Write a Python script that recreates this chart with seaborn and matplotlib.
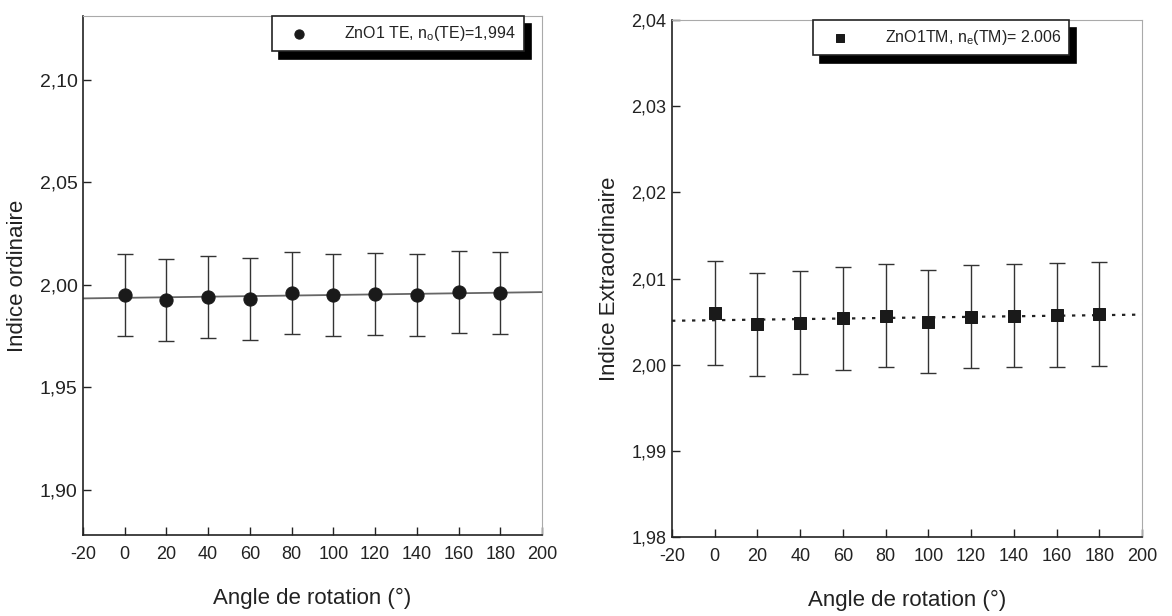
import numpy as np
import pandas as pd
import matplotlib
matplotlib.use("Agg")
import matplotlib.pyplot as plt
import seaborn as sns

# data
angles = [0, 20, 40, 60, 80, 100, 120, 140, 160, 180]
n_te = [1.9951, 1.9927, 1.9938, 1.9931, 1.9960, 1.9951, 1.9955, 1.9951, 1.9963, 1.9960]
err_te = [0.020, 0.020, 0.020, 0.020, 0.020, 0.020, 0.020, 0.020, 0.020, 0.020]
n_tm = [2.0060, 2.0047, 2.0049, 2.0054, 2.0057, 2.0050, 2.0056, 2.0057, 2.0058, 2.0059]
err_tm = [0.006, 0.006, 0.006, 0.006, 0.006, 0.006, 0.006, 0.006, 0.006, 0.006]

x_ticks = [-20, 0, 20, 40, 60, 80, 100, 120, 140, 160, 180, 200]
te_yticks = [1.90, 1.95, 2.00, 2.05, 2.10]
te_ylabels = ["1,90", "1,95", "2,00", "2,05", "2,10"]
tm_yticks = [1.98, 1.99, 2.00, 2.01, 2.02, 2.03, 2.04]
tm_ylabels = ["1,98", "1,99", "2,00", "2,01", "2,02", "2,03", "2,04"]

te_label = r"ZnO1 TE, n$_\mathrm{o}$(TE)=1,994"
tm_label = r"ZnO1TM, n$_\mathrm{e}$(TM)= 2.006"

df_te = pd.DataFrame({"angle": angles, "n": n_te, "err": err_te})
df_tm = pd.DataFrame({"angle": angles, "n": n_tm, "err": err_tm})

sns.set_theme(style="ticks")
plt.rcParams["font.family"] = ["Liberation Sans", "DejaVu Sans"]
plt.rcParams["mathtext.fontset"] = "custom"
plt.rcParams["mathtext.rm"] = "Liberation Sans"
plt.rcParams["text.color"] = "#222222"

fig = plt.figure(figsize=(11.72, 6.16), dpi=100)
ax1 = fig.add_axes([0.0708, 0.1315, 0.3917, 0.8425])
ax2 = fig.add_axes([0.5734, 0.128, 0.401, 0.8393])


def style_axes(ax, yticks, ylabels, ylim, ysize):
    ax.set_xlim(-20, 200)
    ax.set_ylim(*ylim)
    ax.set_xticks(x_ticks)
    ax.set_xticklabels([str(t) for t in x_ticks], fontsize=13, color="#222222")
    ax.set_yticks(yticks)
    ax.set_yticklabels(ylabels, fontsize=ysize, color="#222222")
    ax.tick_params(direction="in", length=6, width=1, color="#222222")
    ax.tick_params(axis="x", pad=8)
    ax.tick_params(axis="y", pad=4)
    for s in ["left", "bottom"]:
        ax.spines[s].set_color("#222222")
        ax.spines[s].set_linewidth(1.2)
    for s in ["top", "right"]:
        ax.spines[s].set_color("#aaaaaa")
        ax.spines[s].set_linewidth(0.8)


# left panel: ordinary index
style_axes(ax1, te_yticks, te_ylabels, (1.878, 2.131), 14)
sns.regplot(data=df_te, x="angle", y="n", ax=ax1, scatter=False, ci=None,
            truncate=False, line_kws={"color": "#666666", "lw": 1.3})
ax1.errorbar(df_te["angle"], df_te["n"], yerr=df_te["err"], fmt="none",
             ecolor="#333333", elinewidth=1, capsize=6, capthick=1)
sns.scatterplot(data=df_te, x="angle", y="n", ax=ax1, marker="o", s=90,
                color="#1a1a1a", edgecolor="#1a1a1a", label=te_label, zorder=5)
ax1.set_xlim(-20, 200)
ax1.set_xlabel("Angle de rotation (°)", fontsize=16, color="#222222", labelpad=18)
ax1.set_ylabel("Indice ordinaire", fontsize=16, color="#222222", labelpad=8)

# right panel: extraordinary index
style_axes(ax2, tm_yticks, tm_ylabels, (1.98, 2.04), 13)
sns.regplot(data=df_tm, x="angle", y="n", ax=ax2, scatter=False, ci=None,
            truncate=False, line_kws={"color": "#222222", "lw": 1.6, "ls": (0, (1.5, 3))})
ax2.errorbar(df_tm["angle"], df_tm["n"], yerr=df_tm["err"], fmt="none",
             ecolor="#333333", elinewidth=1, capsize=6, capthick=1)
sns.scatterplot(data=df_tm, x="angle", y="n", ax=ax2, marker="s", s=80,
                color="#1a1a1a", edgecolor="#1a1a1a", label=tm_label, zorder=5)
ax2.set_xlim(-20, 200)
ax2.set_xlabel("Angle de rotation (°)", fontsize=16, color="#222222", labelpad=18)
ax2.set_ylabel("Indice Extraordinaire", fontsize=16, color="#222222", labelpad=8)

# boxed legends with a hard black drop shadow
shadow = {"color": "black", "alpha": 1, "ox": 5, "oy": -6}
for ax, anchor in [(ax1, (0.412, 1.0)), (ax2, (0.30, 1.0))]:
    leg = ax.legend(loc="upper left", bbox_to_anchor=anchor, borderaxespad=0,
                    fontsize=11.5, frameon=True, fancybox=False, shadow=shadow,
                    scatterpoints=1, markerscale=0.7, handletextpad=1.6,
                    borderpad=0.5, handlelength=2.4)
    leg.get_frame().set_edgecolor("#222222")
    leg.get_frame().set_linewidth(1.2)
    leg.get_frame().set_facecolor("white")
    leg.get_frame().set_alpha(1)

fig.savefig("out.png", dpi=100)
